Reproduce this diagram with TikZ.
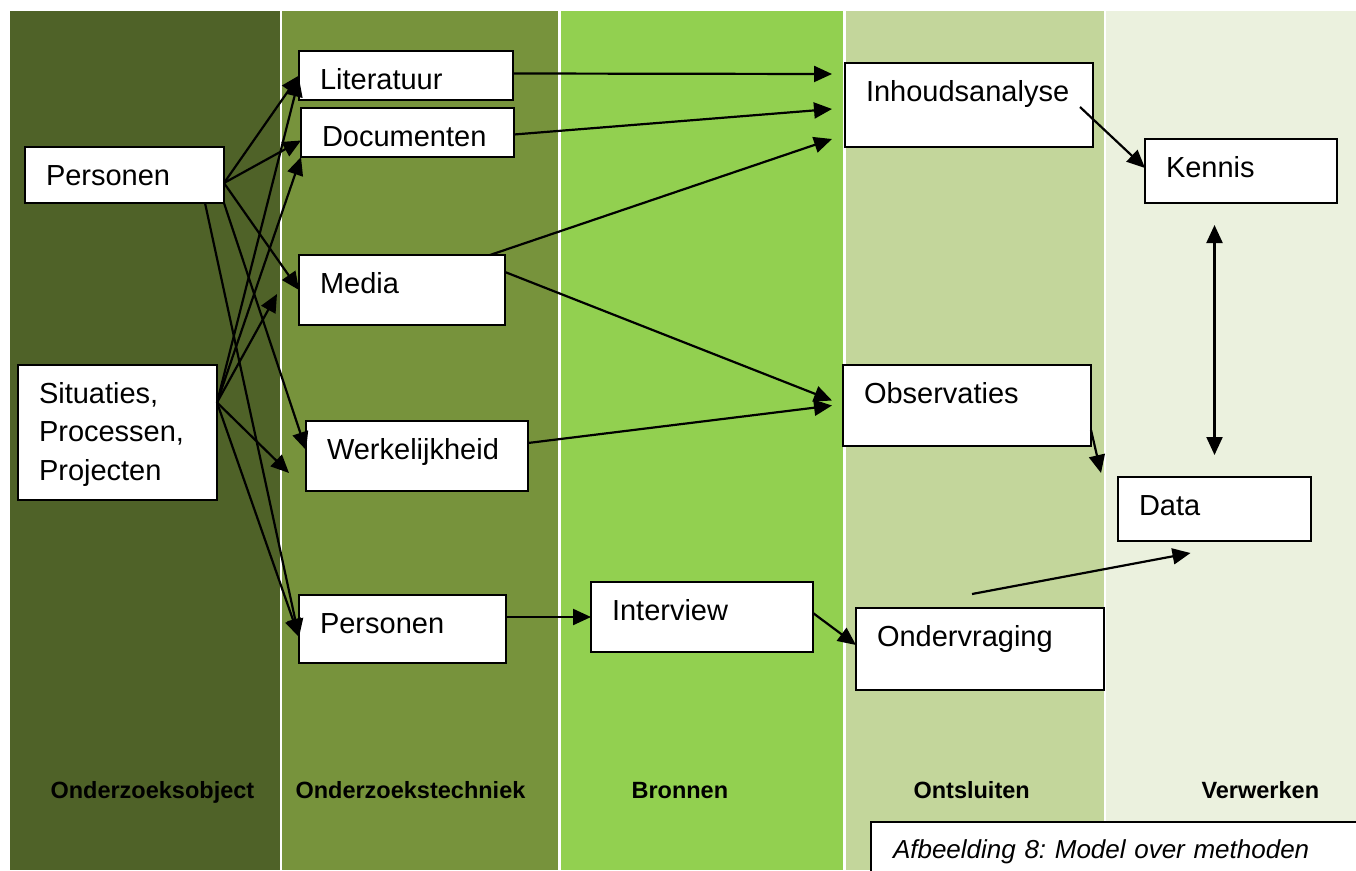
\documentclass[tikz,border=0pt]{standalone}
\usepackage{fontspec}
\setmainfont{Liberation Sans}
\usetikzlibrary{arrows.meta,calc}

\definecolor{colA}{HTML}{4F6228}
\definecolor{colB}{HTML}{77933C}
\definecolor{colC}{HTML}{92D050}
\definecolor{colD}{HTML}{C3D69B}
\definecolor{colE}{HTML}{EBF1DE}

\tikzset{
	box/.style={draw,fill=white,line width=1.8pt,anchor=north west,outer sep=0pt,
		align=left,inner xsep=21pt,inner ysep=0pt,text height=38pt,
		font=\fontsize{29}{38.5}\selectfont},
	arr/.style={->,line width=2.2pt},
	colname/.style={anchor=base west,font=\bfseries\fontsize{23.5}{28}\selectfont},
	>={Triangle[length=18pt,width=16pt]}
}

\begin{document}
\begin{tikzpicture}[x=1pt,y=-1pt]
	\useasboundingbox (0,0) rectangle (1356,870);
	\foreach \xa/\xb/\c in {10/280/colA,282/558/colB,561/843/colC,846/1104/colD,1106/1356/colE}
		\fill[\c] (\xa,11) rectangle (\xb,870);

	\node[box,text width=172pt,text depth=11pt] (lit) at (299,51) {Literatuur};
	\node[box,text width=171pt,text depth=11pt] (doc) at (301,108) {Documenten};
	\node[box,text width=157pt,text depth=18pt] (pers) at (25,147) {Personen};
	\node[box,text width=164pt,text depth=32pt] (med) at (299,255) {Media};
	\node[box,text width=157pt,text depth=97pt] (sit) at (18,365) {Situaties,\\Processen,\\Projecten};
	\node[box,text width=180pt,text depth=32pt] (werk) at (306,421) {Werkelijkheid};
	\node[box,text width=165pt,text depth=30pt] (persb) at (299,595) {Personen};
	\node[box,text width=180pt,text depth=32pt] (intv) at (591,582) {Interview};
	\node[box,text width=206pt,text depth=46pt] (inh) at (845,63) {Inhoudsanalyse};
	\node[box,text width=150pt,text depth=26pt] (ken) at (1145,139) {Kennis};
	\node[box,text width=206pt,text depth=43pt] (obs) at (843,365) {Observaties};
	\node[box,text width=151pt,text depth=26pt] (data) at (1118,477) {Data};
	\node[box,text width=206pt,text depth=44pt] (ond) at (856,608) {Ondervraging};

	\node[colname] (lA) at (47,798) {Onderzoeksobject};
	\node[colname] (lB) at (292,798) {Onderzoekstechniek};
	\node[colname] (lC) at (628,798) {Bronnen};
	\node[colname] (lD) at (910,798) {Ontsluiten};
	\node[colname] (lE) at (1198,798) {Verwerken};

	\node[box,line width=1.4pt,text width=476pt,inner xsep=22pt,text height=36pt,text depth=30pt,
		font=\itshape\frenchspacing\fontsize{26}{30}\selectfont] (cap) at (871,822) {Afbeelding 8: Model over methoden};

	\draw[arr] ([yshift=-8pt]pers.east) -- (lit.west);
	\draw[arr] ([yshift=-8pt]pers.east) -- ([yshift=-8pt]doc.west);
	\draw[arr] ([yshift=-8pt]pers.east) -- (med.west);
	\draw[arr] (pers.south east) -- ([yshift=6pt]werk.west);
	\draw[arr] ([xshift=-19pt]pers.south east) -- ([yshift=-8pt]persb.west);

	\draw[arr] ([yshift=30pt]sit.east) -- ([yshift=-3pt]lit.west);
	\draw[arr] ([yshift=30pt]sit.east) -- (doc.south west);
	\draw[arr] ([yshift=30pt]sit.east) -- ([xshift=-22pt,yshift=-4pt]med.west);
	\draw[arr] ([yshift=30pt]sit.east) -- ([xshift=-17pt,yshift=-17pt]werk.west);
	\draw[arr] ([yshift=30pt]sit.east) -- ([yshift=-8pt]persb.west);

	\draw[arr] ([yshift=2pt]lit.east) -- ([xshift=-13pt,yshift=-11pt]inh.north west);
	\draw[arr] ([yshift=-2pt]doc.east) -- ([xshift=-13pt,yshift=-4pt]inh.west);
	\draw[arr] ([xshift=-15pt]med.north east) -- ([xshift=-13pt,yshift=8pt]inh.south west);
	\draw[arr] ([yshift=-17pt]med.north east) -- ([xshift=-11pt,yshift=5pt]obs.west);
	\draw[arr] ([yshift=13pt]werk.east) -- ([xshift=-11pt]obs.west);
	\draw[arr] ([xshift=-13pt,yshift=-2pt]inh.east) -- ([yshift=3pt]ken.west);
	\draw[arr,<->] ($(ken.south -| data.north)+(0,22)$) -- ($(data.north)+(0,-22)$);
	\draw[arr] ([yshift=16pt]obs.south east) -- ([xshift=-17pt,yshift=4pt]data.north west);
	\draw[arr] (persb.east |- intv.west) -- (intv.west);
	\draw[arr] ([yshift=-31pt]intv.north east) -- ([yshift=4pt]ond.west);
	\draw[arr] ([xshift=-8pt,yshift=14pt]ond.north) -- ([xshift=-24pt,yshift=-12pt]data.south);
\end{tikzpicture}
\end{document}
